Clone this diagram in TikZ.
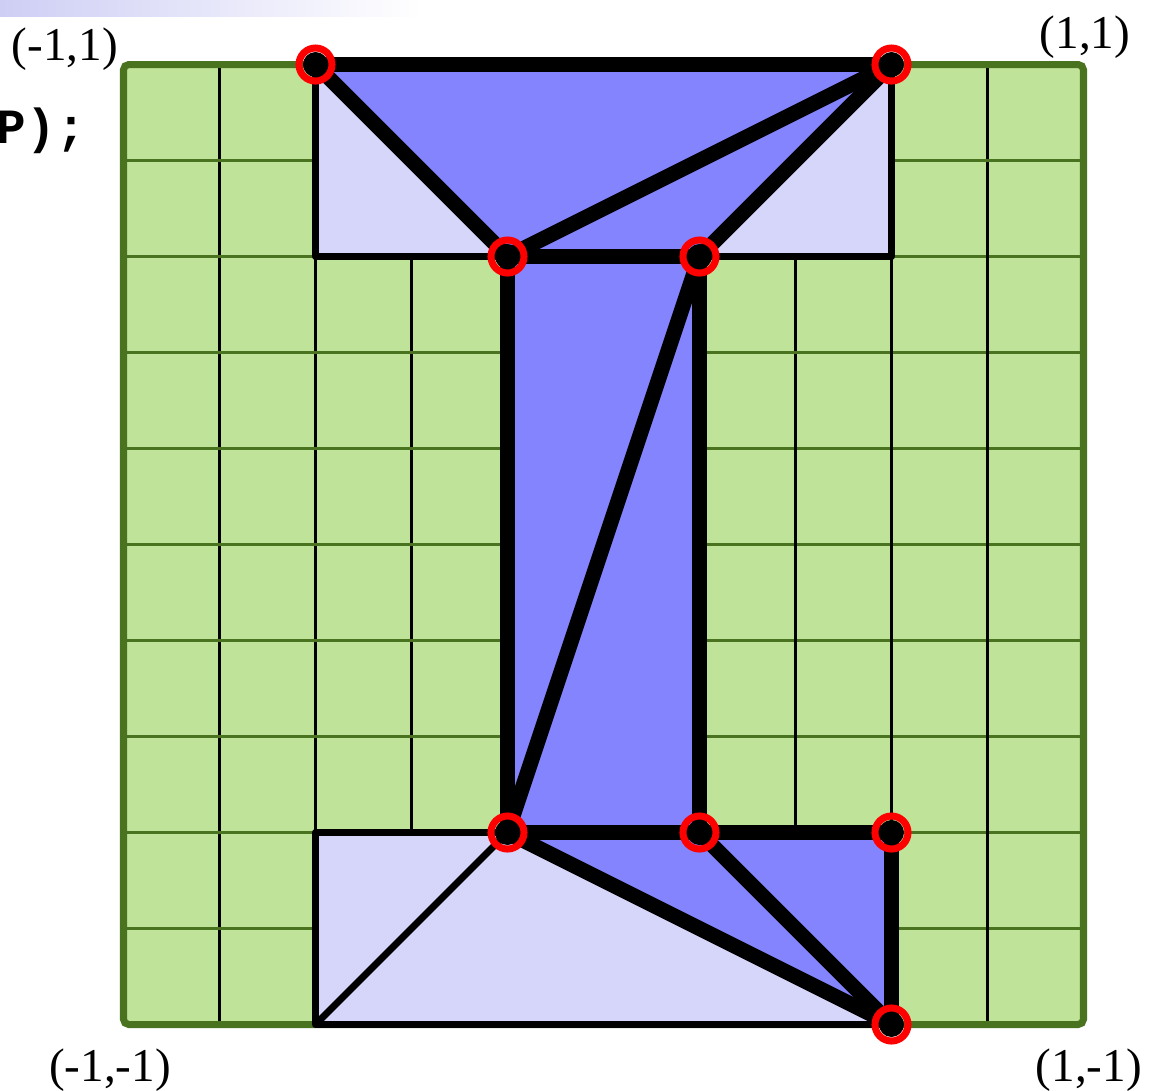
\documentclass[tikz,border=0pt]{standalone}
\usepackage{fontspec}
\setmainfont{Liberation Serif}
\setmonofont{Liberation Mono}
\definecolor{meshdark}{RGB}{132,132,255}
\definecolor{meshlight}{RGB}{214,214,250}
\definecolor{gridfill}{RGB}{192,227,154}
\definecolor{gridgreen}{RGB}{74,115,32}
\definecolor{headbar}{RGB}{206,206,245}

\begin{document}
\begin{tikzpicture}[x=4.8cm,y=4.8cm,
  rectedge/.style={line width=2pt,line join=round},
  meshedge/.style={line width=4.3pt,line cap=round,line join=round},
  vmark/.style={draw=red,line width=2pt},
  corner/.style={font=\fontsize{13.4}{16}\selectfont,anchor=base,inner sep=0pt}]
\useasboundingbox (-1.2573,-1.1365) rectangle (1.1448,1.1344);
% ---------------- slide header remnant ----------------
\shade[left color=headbar,right color=white] (-1.2573,1.101) rectangle (-0.38,1.1344);
\node[anchor=base west,font=\fontsize{14}{16}\selectfont\ttfamily\bfseries,inner sep=0pt] (code) at (-1.265,0.836) {P);};
% ---------------- domain [-1,1]^2 with grid ----------------
\fill[gridfill] (-1,-1) rectangle (1,1);
\foreach \i in {-4,...,4} {
  \draw[black,line width=0.6pt] (\i/5,-1) -- (\i/5,1);
  \draw[gridgreen,line width=0.6pt] (-1,\i/5) -- (1,\i/5);
}
\draw[gridgreen,line width=2pt,rounded corners=1.5pt] (-1,-1) rectangle (1,1);
% ---------------- vertices ----------------
\coordinate (t1) at (-0.6,1);   \coordinate (t2) at (0.6,1);
\coordinate (m1) at (-0.2,0.6); \coordinate (m2) at (0.2,0.6);
\coordinate (b1) at (-0.2,-0.6);\coordinate (b2) at (0.2,-0.6);
\coordinate (b3) at (0.6,-0.6); \coordinate (b4) at (0.6,-1);
\coordinate (r2) at (0.6,0.6);  \coordinate (r3) at (-0.6,-0.6);
\coordinate (r4) at (-0.6,-1);
% ---------------- top bar ----------------
\filldraw[fill=meshlight,rectedge] (t1) rectangle (r2);
\fill[meshdark] (t1) -- (t2) -- (m1) -- cycle;
\fill[meshdark] (m1) -- (m2) -- (t2) -- cycle;
% ---------------- stem ----------------
\fill[meshdark] (m1) -- (m2) -- (b2) -- (b1) -- cycle;
% ---------------- bottom bar ----------------
\filldraw[fill=meshlight,rectedge] (r3) rectangle (b4);
\draw[rectedge] (r4) -- (b1);
\fill[meshdark] (b1) -- (b2) -- (b4) -- cycle;
\fill[meshdark] (b2) -- (b3) -- (b4) -- cycle;
% ---------------- triangle edges ----------------
\foreach \u/\v in {t1/t2,t1/m1,m1/t2,m1/m2,m2/t2,m1/b1,m2/b2,m2/b1,b1/b2,b2/b3,b3/b4,b1/b4,b2/b4}
  \draw[meshedge] (\u) -- (\v);
\foreach \p in {t1,t2,m1,m2,b1,b2,b3,b4} {
  \fill[black] (\p) circle (0.026);
  \draw[vmark] (\p) circle (0.0344);
}
% ---------------- corner labels ----------------
\node[corner] (lblTL) at (-1.122,1.009) {(-1,1)};
\node[corner] (lblTR) at (1.003,1.034) {(1,1)};
\node[corner] (lblBL) at (-1.028,-1.118) {(-1,-1)};
\node[corner] (lblBR) at (1.011,-1.118) {(1,-1)};
\end{tikzpicture}
\end{document}
